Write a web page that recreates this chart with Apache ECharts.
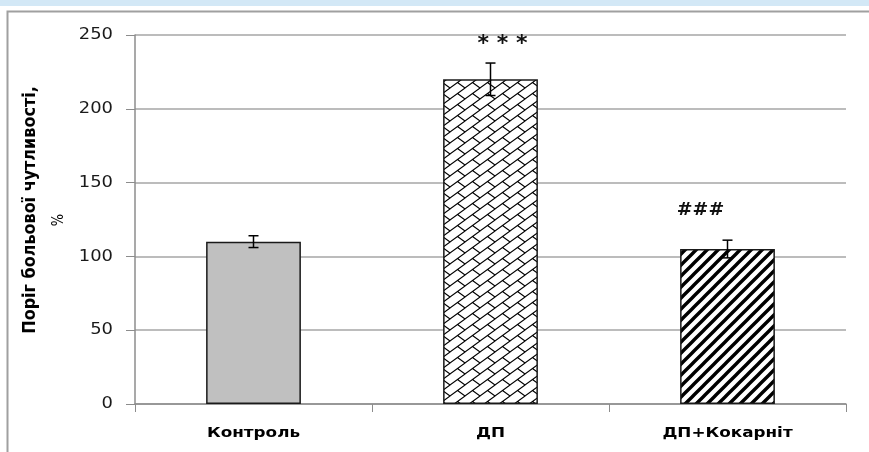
<!DOCTYPE html>
<html>
<head>
<meta charset="utf-8">
<script src="https://cdn.jsdelivr.net/npm/echarts@6/dist/echarts.min.js"></script>
<style>
  html, body { margin: 0; padding: 0; background: #fff; }
  #chart { width: 869px; height: 452px; }
</style>
</head>
<body>
<div id="chart"></div>
<script>
// Pain sensitivity threshold, % (mean ± error)
const categories = ['Контроль', 'ДП', 'ДП+Кокарніт'];
const means = [110, 220, 105];
const errors = [4, 11, 6];
const marks = ['', '* * *', '###'];
const markValues = [0, 248, 131];
const yTicks = { min: 0, max: 250, interval: 50 };
const yTitle = 'Поріг больової чутливості,';
const yUnit = '%';

// layout
const gridBox = { left: 135, right: 23, top: 35, bottom: 48 };
const markShiftX = [0, 12, -27];   // significance marks sit off-centre
const stretch = 1.2;               // text in this figure is drawn slightly wide
const sans = '"DejaVu Sans", Verdana, sans-serif';

function makePattern(draw, w, h) {
  const c = document.createElement('canvas');
  c.width = w; c.height = h;
  const ctx = c.getContext('2d');
  ctx.fillStyle = '#fff';
  ctx.fillRect(0, 0, w, h);
  draw(ctx, w, h);
  return { image: c, repeat: 'repeat' };
}

// diagonal brick hatch: "/" rows joined by staggered "\" connectors
const brick = makePattern(function (ctx, w, h) {
  ctx.strokeStyle = '#000';
  ctx.lineWidth = 1.1;
  ctx.beginPath();
  for (let ox = -w; ox <= w; ox += w) {
    for (let oy = -h; oy <= h; oy += h) {
      ctx.moveTo(ox, oy + h); ctx.lineTo(ox + w, oy);
      ctx.moveTo(ox + w / 2, oy + h / 2); ctx.lineTo(ox + w, oy + h);
    }
  }
  ctx.stroke();
}, 15, 11);

// wide upward diagonal stripes
const stripes = makePattern(function (ctx, w, h) {
  ctx.strokeStyle = '#000';
  ctx.lineWidth = 3.4;
  ctx.beginPath();
  for (let k = -1; k <= 1; k++) {
    ctx.moveTo(k * w - 2, h + 2);
    ctx.lineTo(k * w + w + 2, -2);
  }
  ctx.stroke();
}, 11, 11);

const fills = ['#c0c0c0', brick, stripes];

const chart = echarts.init(document.getElementById('chart'), null, { renderer: 'canvas' });

const frame = [
  { type: 'rect', silent: true, shape: { x: 0, y: 0, width: 869, height: 6 },
    style: { fill: '#d3e8f6' } },
  { type: 'polyline', silent: true,
    shape: { points: [[7.5, 452], [7.5, 11.5], [869, 11.5]] },
    style: { stroke: '#a0a0a0', lineWidth: 2, fill: null } },
  { type: 'text', silent: true, x: 31, y: 210, rotation: Math.PI / 2, scaleY: 1.08,
    style: { text: yTitle, fill: '#000', font: 'bold 16px ' + sans,
      align: 'center', verticalAlign: 'middle' } },
  { type: 'text', silent: true, x: 59, y: 220, rotation: Math.PI / 2, scaleY: stretch,
    style: { text: yUnit, fill: '#000', font: '13px ' + sans,
      align: 'center', verticalAlign: 'middle' } }
];

chart.setOption({
  animation: false,
  backgroundColor: '#fff',
  grid: gridBox,
  xAxis: {
    type: 'category',
    data: categories,
    boundaryGap: true,
    axisLine: { lineStyle: { color: '#8c8c8c', width: 1.5 } },
    axisTick: { show: true, length: 8, alignWithLabel: false, lineStyle: { color: '#8c8c8c' } },
    axisLabel: { show: false },
    splitLine: { show: false }
  },
  yAxis: {
    type: 'value',
    min: yTicks.min, max: yTicks.max, interval: yTicks.interval,
    axisLine: { show: true, lineStyle: { color: '#8c8c8c', width: 1.5 } },
    axisTick: { show: true, length: 9, lineStyle: { color: '#8c8c8c' } },
    axisLabel: { show: false },
    splitLine: { lineStyle: { color: '#a6a6a6', width: 1.5 } }
  },
  graphic: frame,
  series: [
    {
      type: 'bar',
      barWidth: '40%',
      data: means.map(function (v, i) {
        return { value: v, itemStyle: { color: fills[i], borderColor: '#1a1a1a', borderWidth: 1.5 } };
      }),
      z: 2
    },
    {
      type: 'custom',
      z: 5,
      data: means.map(function (v, i) { return [i, v, errors[i], markValues[i]]; }),
      renderItem: function (params, api) {
        const i = api.value(0);
        const m = api.value(1);
        const e = api.value(2);
        const top = api.coord([i, m + e]);
        const bot = api.coord([i, m - e]);
        const half = 5;
        const children = [
          { type: 'line', shape: { x1: top[0], y1: top[1], x2: bot[0], y2: bot[1] }, style: { stroke: '#000', lineWidth: 1.5 } },
          { type: 'line', shape: { x1: top[0] - half, y1: top[1], x2: top[0] + half, y2: top[1] }, style: { stroke: '#000', lineWidth: 1.5 } },
          { type: 'line', shape: { x1: bot[0] - half, y1: bot[1], x2: bot[0] + half, y2: bot[1] }, style: { stroke: '#000', lineWidth: 1.5 } }
        ];
        const txt = marks[params.dataIndex];
        if (txt) {
          const p = api.coord([i, api.value(3)]);
          const star = txt.indexOf('*') >= 0;
          children.push({
            type: 'text',
            x: p[0] + markShiftX[params.dataIndex], y: p[1] + (star ? 6 : 0),
            scaleX: star ? 1 : 1.05,
            style: { text: txt, x: 0, y: 0, align: 'center', verticalAlign: 'middle',
              fill: '#111', font: 'bold ' + (star ? 22 : 18) + 'px ' + sans }
          });
        }
        return { type: 'group', children: children };
      }
    }
  ]
});

// Axis labels, placed through the axes' own scales
const axisText = [];
categories.forEach(function (c, i) {
  const p = chart.convertToPixel({ xAxisIndex: 0, yAxisIndex: 0 }, [i, yTicks.min]);
  axisText.push({ type: 'text', silent: true, x: p[0], y: p[1] + 29, scaleX: stretch,
    style: { text: c, fill: '#000', font: 'bold 14px ' + sans, align: 'center', verticalAlign: 'middle' } });
});
for (let v = yTicks.min; v <= yTicks.max; v += yTicks.interval) {
  const y = chart.convertToPixel({ yAxisIndex: 0 }, v);
  axisText.push({ type: 'text', silent: true, x: gridBox.left - 22, y: y, scaleX: 1.12,
    style: { text: String(v), fill: '#1a1a1a', font: '16px ' + sans, align: 'right', verticalAlign: 'middle' } });
}
chart.setOption({ graphic: frame.concat(axisText) });
</script>
</body>
</html>
